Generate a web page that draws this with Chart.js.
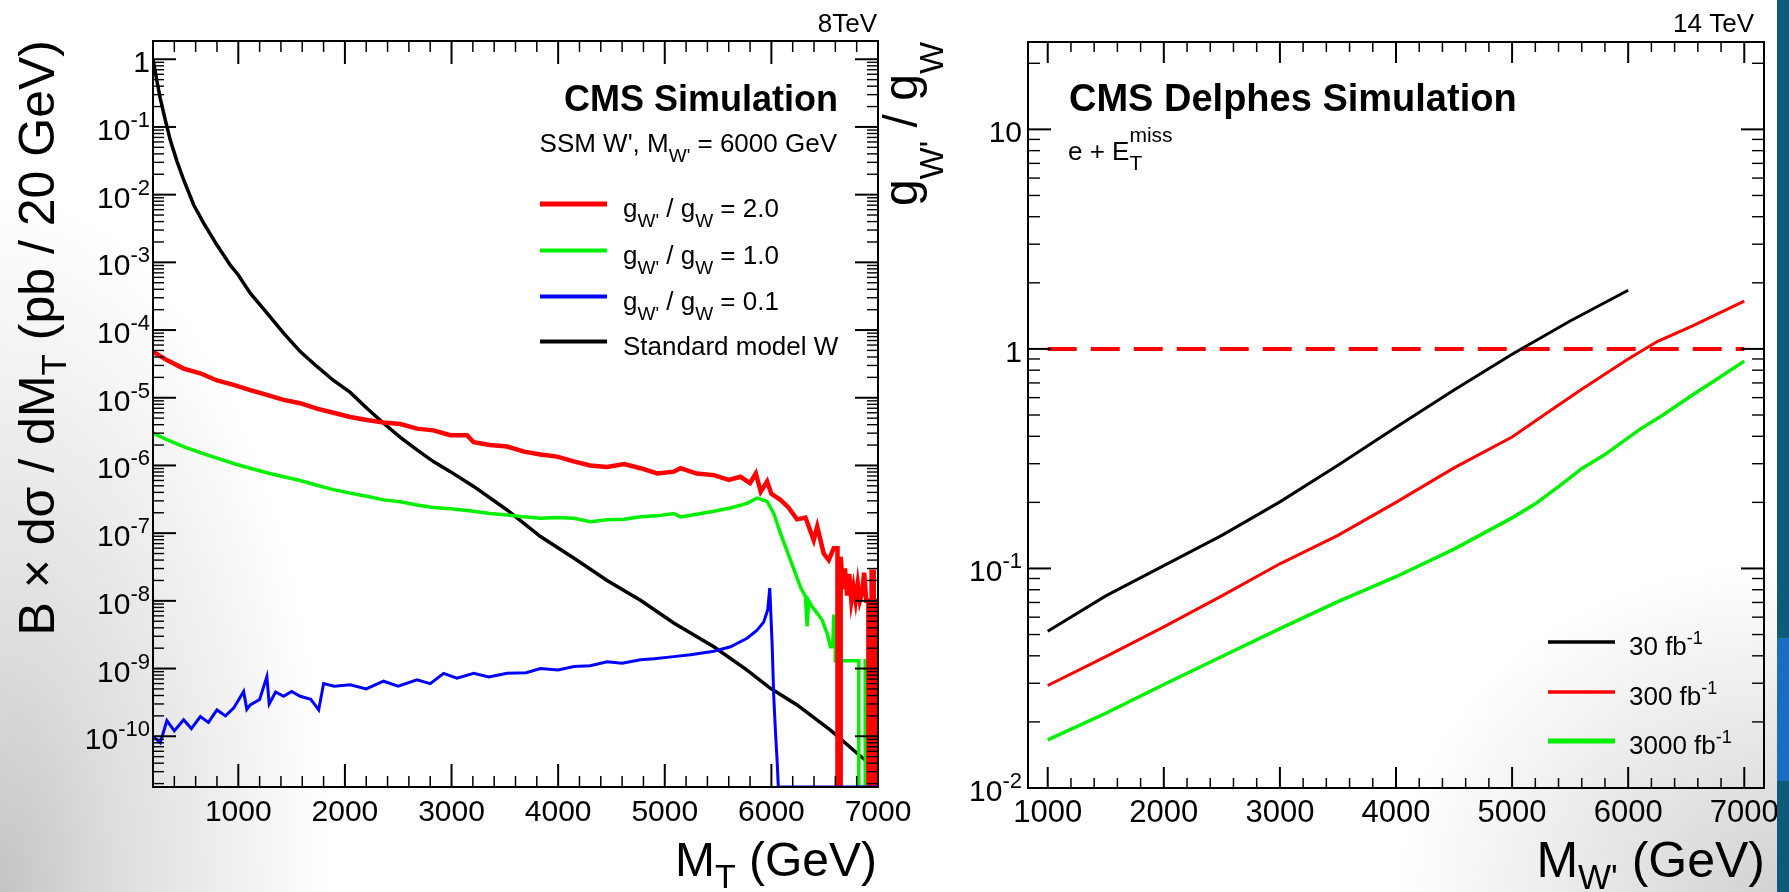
<!DOCTYPE html>
<html>
<head>
<meta charset="utf-8">
<script src="https://cdn.jsdelivr.net/npm/chart.js@4.4.1/dist/chart.umd.min.js"></script>
<style>
  html, body { margin: 0; padding: 0; }
  body {
    width: 1789px; height: 892px; overflow: hidden; position: relative;
    background:
      radial-gradient(ellipse 330px 700px at 0px 892px, #c4c4c4 0%, #dddddd 35%, rgba(255,255,255,0) 100%),
      radial-gradient(ellipse 380px 330px at 1777px 892px, #d2d2d2 0%, rgba(255,255,255,0) 100%),
      #ffffff;
  }
  canvas { position: absolute; left: 0; top: 0; }
  #strip { position: absolute; left: 1777px; top: 0; width: 12px; height: 892px; background: #0d5b78; }
  #strip2 { position: absolute; left: 1777px; top: 638px; width: 12px; height: 143px; background: #1a6dc0; }
</style>
</head>
<body>
<canvas id="left" width="1789" height="892"></canvas>
<canvas id="right" width="1789" height="892"></canvas>
<div id="strip"></div><div id="strip2"></div>
<script>
// ---- left panel: M_T spectra (pb / 20 GeV), zero bins sit on the lower frame ----
var Y_MIN_LEFT = 1.78e-11;
var F = Y_MIN_LEFT;

var smX = [200, 215, 240, 268, 315, 362, 425, 487, 581, 675, 800, 925, 1000, 1112, 1268, 1425, 1581, 1737, 1893, 2050,
  2206, 2363, 2520, 2676, 2830, 2989, 3208, 3521, 3834, 4146, 4459, 4772, 5084, 5460, 5772, 5991, 6241, 6554, 6804, 6940, 7000];
var smY = [1.0, 0.75, 0.45, 0.265, 0.127, 0.064, 0.031, 0.0166, 0.0071, 0.0038, 1.8e-3, 9.1e-4, 6.5e-4, 3.5e-4, 1.8e-4, 9.0e-5, 4.8e-5, 2.9e-5, 1.8e-5, 1.2e-5,
  7.0e-6, 4.2e-6, 2.6e-6, 1.7e-6, 1.14e-6, 8.1e-7, 4.9e-7, 2.2e-7, 8.9e-8, 4.3e-8, 2.0e-8, 1.02e-8, 4.7e-9, 2.1e-9, 9.5e-10, 5.1e-10, 2.9e-10, 1.23e-10, 5.6e-11, 3.7e-11, 3.0e-11];

var w20X = [200, 330, 487, 644, 800, 956, 1112, 1268, 1425, 1581, 1737, 1893, 2050, 2206, 2362, 2520, 2676, 2830, 2989, 3146,
  3208, 3360, 3521, 3680, 3834, 3990, 4146, 4300, 4459, 4620, 4772, 4930, 5084, 5147, 5300, 5460, 5600, 5710, 5800, 5854,
  5900, 5960, 6000, 6085, 6160, 6241, 6320, 6397, 6430, 6491, 6538, 6585, 6620, 6620, 6650, 6650, 6670, 6690, 6710, 6730,
  6750, 6770, 6790, 6810, 6830, 6850, 6870, 6890, 6910, 6910, 6940, 6940, 6960, 6960, 6980, 6980, 7000];
var w20Y = [4.8e-5, 3.6e-5, 2.7e-5, 2.3e-5, 1.8e-5, 1.55e-5, 1.3e-5, 1.1e-5, 9.3e-6, 8.3e-6, 6.9e-6, 6.0e-6, 5.2e-6, 4.7e-6, 4.3e-6, 4.1e-6, 3.5e-6, 3.3e-6, 2.8e-6, 2.8e-6,
  2.2e-6, 2.0e-6, 1.9e-6, 1.6e-6, 1.45e-6, 1.35e-6, 1.15e-6, 1.0e-6, 9.5e-7, 1.05e-6, 9.1e-7, 7.6e-7, 8.1e-7, 9.1e-7, 7.6e-7, 7.2e-7, 6.1e-7, 6.8e-7, 5.5e-7, 7.6e-7,
  4.1e-7, 5.8e-7, 3.8e-7, 3.1e-7, 2.4e-7, 1.6e-7, 1.7e-7, 7.9e-8, 1.25e-7, 5.0e-8, 4.0e-8, 6.0e-8, 6.0e-8, F, F, 4.5e-8, 1.5e-8, 3.0e-8, 1.2e-8, 2.5e-8,
  1.0e-8, 1.6e-8, 1.0e-8, 1.8e-8, 1.0e-8, 1.3e-8, 2.6e-8, 1.0e-8, 1.0e-8, F, F, 2.7e-8, 2.7e-8, F, F, 1.0e-8, 1.0e-8];

var w10X = [200, 330, 487, 644, 800, 956, 1112, 1268, 1425, 1581, 1737, 1893, 2050, 2206, 2362, 2520, 2676, 2830, 2989, 3208,
  3360, 3521, 3680, 3834, 3990, 4146, 4302, 4459, 4620, 4772, 4930, 5084, 5147, 5300, 5460, 5616, 5772, 5866, 5960, 6022,
  6085, 6179, 6273, 6320, 6335, 6350, 6382, 6429, 6476, 6523, 6554, 6575, 6585, 6600, 6600, 6820, 6820, 6880, 6880, 7000];
var w10Y = [3.0e-6, 2.4e-6, 1.9e-6, 1.55e-6, 1.28e-6, 1.07e-6, 9.1e-7, 7.8e-7, 6.8e-7, 6.0e-7, 5.1e-7, 4.4e-7, 3.9e-7, 3.5e-7, 3.1e-7, 2.9e-7, 2.6e-7, 2.4e-7, 2.3e-7, 2.1e-7,
  1.95e-7, 1.86e-7, 1.74e-7, 1.66e-7, 1.7e-7, 1.66e-7, 1.48e-7, 1.58e-7, 1.6e-7, 1.74e-7, 1.8e-7, 1.95e-7, 1.74e-7, 1.9e-7, 2.1e-7, 2.35e-7, 2.75e-7, 3.3e-7, 2.95e-7, 1.95e-7,
  1.0e-7, 4.0e-8, 1.6e-8, 1.15e-8, 4.2e-9, 1.0e-8, 8.2e-9, 6.6e-9, 5.2e-9, 3.3e-9, 2.1e-9, 2.1e-9, 5.9e-9, 5.9e-9, 1.3e-9, 1.3e-9, F, F, 1.3e-9, 1.3e-9];

var w01X = [200, 268, 330, 400, 487, 560, 644, 720, 800, 880, 956, 1050, 1080, 1112, 1200, 1268, 1290, 1350, 1425, 1500,
  1581, 1680, 1754, 1800, 1900, 2050, 2200, 2362, 2500, 2676, 2800, 2926, 3050, 3208, 3350, 3521, 3700, 3834, 4000, 4146,
  4300, 4459, 4600, 4772, 4900, 5084, 5241, 5460, 5616, 5772, 5866, 5929, 5966, 5985, 6007, 6022, 6038, 6055, 6065, 7000];
var w01Y = [1.0e-10, 8.0e-11, 1.7e-10, 1.2e-10, 1.75e-10, 1.3e-10, 1.95e-10, 1.6e-10, 2.45e-10, 2.0e-10, 2.6e-10, 4.6e-10, 2.5e-10, 2.9e-10, 3.5e-10, 7.6e-10, 3.0e-10, 4.5e-10, 3.9e-10, 4.6e-10,
  3.9e-10, 3.5e-10, 2.45e-10, 6.0e-10, 5.5e-10, 5.75e-10, 5.0e-10, 6.5e-10, 5.5e-10, 6.8e-10, 6.0e-10, 8.5e-10, 7.2e-10, 8.5e-10, 7.5e-10, 8.5e-10, 8.7e-10, 1.0e-9, 9.5e-10, 1.07e-9,
  1.1e-9, 1.26e-9, 1.2e-9, 1.35e-9, 1.4e-9, 1.5e-9, 1.6e-9, 1.8e-9, 2.1e-9, 2.8e-9, 3.7e-9, 4.9e-9, 7.4e-9, 1.55e-8, 2.3e-9, 3.9e-10, 1.2e-10, 4.0e-11, F, F];

var leftXTicks = [1000, 2000, 3000, 4000, 5000, 6000, 7000];
var leftYExps = [0, -1, -2, -3, -4, -5, -6, -7, -8, -9, -10];

// ---- right panel: coupling limits vs M_W' ----
var mw30 = [1000, 1500, 2000, 2500, 3000, 3500, 4000, 4500, 5000, 5500, 6000];
var lim30 = [0.0518, 0.075, 0.103, 0.1415, 0.201, 0.295, 0.44, 0.65, 0.945, 1.34, 1.85];
var mw300 = [1000, 1500, 2000, 2500, 3000, 3500, 4000, 4500, 5000, 5300, 5600, 6000, 6250, 6550, 7000];
var lim300 = [0.0293, 0.0397, 0.0542, 0.075, 0.105, 0.1415, 0.20, 0.287, 0.397, 0.51, 0.655, 0.90, 1.08, 1.27, 1.65];
var mw3000 = [1000, 1500, 2000, 2500, 3000, 3500, 4000, 4500, 5000, 5200, 5400, 5600, 5800, 6100, 6300, 6550, 6750, 7000];
var lim3000 = [0.01655, 0.0219, 0.0296, 0.0397, 0.0532, 0.0706, 0.0917, 0.1225, 0.17, 0.197, 0.236, 0.285, 0.33, 0.43, 0.50, 0.615, 0.72, 0.88];
var refX = [1000, 7000];
var refY = [1, 1];

var rightXTicks = [1000, 2000, 3000, 4000, 5000, 6000, 7000];
var rightYExps = [-2, -1, 0, 1];

var FONT = '"Liberation Sans", Arial, Helvetica, sans-serif';

function pts(xs, ys) {
    return xs.map(function (x, i) { return { x: x, y: ys[i] }; });
}

function serie(xs, ys, cor, largura, extra) {
    var d = {
        data: pts(xs, ys),
        borderColor: cor,
        borderWidth: largura,
        pointRadius: 0,
        tension: 0,
        fill: false,
        borderJoinStyle: 'miter'
    };
    for (var k in extra) d[k] = extra[k];
    return d;
}

function fontOf(p) {
    return (p.b ? 'bold ' : '') + p.s + 'px ' + FONT;
}

function richWidth(ctx, parts) {
    var w = 0;
    parts.forEach(function (p) {
        ctx.font = fontOf(p);
        if (!p.noAdv) w += ctx.measureText(p.t).width;
    });
    return w;
}

// draws a run of text pieces (sub/superscripts via dy)
function drawRich(ctx, parts, x, y, align) {
    var cx = x;
    if (align === 'right') cx = x - richWidth(ctx, parts);
    ctx.textAlign = 'left';
    ctx.textBaseline = 'alphabetic';
    ctx.fillStyle = '#000';
    parts.forEach(function (p) {
        ctx.font = fontOf(p);
        ctx.fillText(p.t, cx, y + (p.dy || 0));
        if (!p.noAdv) cx += ctx.measureText(p.t).width;
    });
}

function seg(ctx, x1, y1, x2, y2) {
    ctx.beginPath();
    ctx.moveTo(x1, y1);
    ctx.lineTo(x2, y2);
    ctx.stroke();
}

function frameAndTicks(chart, t) {
    var ctx = chart.ctx, a = chart.chartArea, xs = chart.scales.x, ys = chart.scales.y;
    ctx.save();
    ctx.strokeStyle = '#000';
    for (var v = Math.ceil(xs.min / t.xMinor) * t.xMinor; v <= xs.max; v += t.xMinor) {
        var px = xs.getPixelForValue(v);
        var major = v % t.xMajor === 0;
        var L = major ? t.xMajorLen : t.xMinorLen;
        ctx.lineWidth = major ? 2 : 1.5;
        seg(ctx, px, a.bottom, px, a.bottom - L);
        seg(ctx, px, a.top, px, a.top + L);
    }
    var e0 = Math.floor(Math.log10(ys.min)), e1 = Math.ceil(Math.log10(ys.max));
    for (var e = e0; e <= e1; e++) {
        for (var m = 1; m < 10; m++) {
            var val = m * Math.pow(10, e);
            if (val < ys.min || val > ys.max) continue;
            var py = ys.getPixelForValue(val);
            var Ly = m === 1 ? t.yMajorLen : t.yMinorLen;
            ctx.lineWidth = m === 1 ? 2 : 1.4;
            seg(ctx, a.left, py, a.left + Ly, py);
            seg(ctx, a.right, py, a.right - Ly, py);
        }
    }
    ctx.lineWidth = 2;
    ctx.strokeRect(a.left, a.top, a.right - a.left, a.bottom - a.top);
    ctx.restore();
}

function tickLabels(chart, xTicks, yExps, o) {
    var ctx = chart.ctx, a = chart.chartArea, xs = chart.scales.x, ys = chart.scales.y;
    ctx.save();
    xTicks.forEach(function (v) {
        ctx.font = o.xSize + 'px ' + FONT;
        ctx.fillStyle = '#000';
        ctx.textAlign = 'center';
        ctx.fillText(String(v), xs.getPixelForValue(v), o.xBase);
    });
    yExps.forEach(function (e) {
        var py = ys.getPixelForValue(Math.pow(10, e)) + 13;
        var parts;
        if (e === 0) parts = [{ t: '1', s: o.ySize }];
        else if (e === 1) parts = [{ t: '10', s: o.ySize }];
        else parts = [{ t: '10', s: o.ySize }, { t: String(e), s: o.supSize, dy: -13 }];
        drawRich(ctx, parts, a.left - o.gap, py, 'right');
    });
    ctx.restore();
}

function legendRows(ctx, rows, x1, x2, tx) {
    rows.forEach(function (r) {
        ctx.save();
        ctx.strokeStyle = r.cor;
        ctx.lineWidth = r.w;
        seg(ctx, x1, r.y, x2, r.y);
        ctx.restore();
        drawRich(ctx, r.parts, tx, r.y + 13, 'left');
    });
}

function decor(draw) {
    return { id: 'decor', afterDraw: function (chart) { draw(chart); } };
}

var noAxis = {
    ticks: { display: false },
    grid: { display: false, drawTicks: false },
    border: { display: false }
};

function eixo(tipo, min, max) {
    return Object.assign({ type: tipo, min: min, max: max }, noAxis);
}

var baseOptions = function (padding, xMin, xMax, yMin, yMax) {
    return {
        responsive: false,
        animation: false,
        devicePixelRatio: 1,
        layout: { padding: padding },
        plugins: { legend: { display: false }, tooltip: { enabled: false } },
        scales: { x: eixo('linear', xMin, xMax), y: eixo('logarithmic', yMin, yMax) }
    };
};

function gLabel(v) {
    return [{ t: 'g', s: 26 }, { t: "W'", s: 19, dy: 10 }, { t: ' / g', s: 26 }, { t: 'W', s: 19, dy: 10 }, { t: ' = ' + v, s: 26 }];
}

new Chart(document.getElementById('left'), {
    type: 'line',
    data: {
        datasets: [
            serie(w01X, w01Y, '#0000ff', 3),
            serie(w20X, w20Y, '#ff0000', 4.5),
            serie(w10X, w10Y, '#00f000', 3.5),
            serie(smX, smY, '#000000', 3.5)
        ]
    },
    options: baseOptions({ left: 153, top: 41, right: 911, bottom: 105 }, 200, 7000, Y_MIN_LEFT, 1.86),
    plugins: [decor(function (chart) {
        var ctx = chart.ctx;
        frameAndTicks(chart, { xMinor: 200, xMajor: 1000, xMajorLen: 23, xMinorLen: 11, yMajorLen: 23, yMinorLen: 11 });
        tickLabels(chart, leftXTicks, leftYExps, { xSize: 30, xBase: 821, ySize: 30, supSize: 22, gap: 3 });

        drawRich(ctx, [{ t: '8TeV', s: 26 }], 877, 32, 'right');
        drawRich(ctx, [{ t: 'CMS Simulation', s: 36, b: true }], 838, 111, 'right');
        drawRich(ctx, [{ t: "SSM W', M", s: 26 }, { t: "W'", s: 19, dy: 10 }, { t: ' = 6000 GeV', s: 26 }], 837, 152, 'right');

        legendRows(ctx, [
            { y: 204, cor: '#ff0000', w: 5, parts: gLabel('2.0') },
            { y: 250.5, cor: '#00f000', w: 4, parts: gLabel('1.0') },
            { y: 296.5, cor: '#0000ff', w: 4, parts: gLabel('0.1') },
            { y: 341.5, cor: '#000000', w: 4, parts: [{ t: 'Standard model W', s: 26 }] }
        ], 540, 607, 623);

        drawRich(ctx, [{ t: 'M', s: 48 }, { t: 'T', s: 34, dy: 12 }, { t: ' (GeV)', s: 48 }], 877, 876, 'right');

        ctx.save();
        ctx.translate(54, 40);
        ctx.rotate(-Math.PI / 2);
        drawRich(ctx, [{ t: 'B \u00d7 d\u03c3 / dM', s: 50 }, { t: 'T', s: 35, dy: 12 }, { t: ' (pb / 20 GeV)', s: 50 }], 0, 0, 'right');
        ctx.restore();
    })]
});

new Chart(document.getElementById('right'), {
    type: 'line',
    data: {
        datasets: [
            serie(mw30, lim30, '#000000', 3),
            serie(mw300, lim300, '#ff0000', 3),
            serie(mw3000, lim3000, '#00f000', 3.5),
            serie(refX, refY, '#ff0000', 4, { borderDash: [29, 14] })
        ]
    },
    options: baseOptions({ left: 1028, top: 42, right: 25, bottom: 104 }, 830, 7170, 0.01, 25),
    plugins: [decor(function (chart) {
        var ctx = chart.ctx;
        frameAndTicks(chart, { xMinor: 200, xMajor: 1000, xMajorLen: 21, xMinorLen: 10, yMajorLen: 23, yMinorLen: 12 });
        tickLabels(chart, rightXTicks, rightYExps, { xSize: 31, xBase: 822, ySize: 30, supSize: 22, gap: 6 });

        drawRich(ctx, [{ t: '14 TeV', s: 26 }], 1754, 32, 'right');
        drawRich(ctx, [{ t: 'CMS Delphes Simulation', s: 38, b: true }], 1069, 111, 'left');
        drawRich(ctx, [{ t: 'e + E', s: 26 }, { t: 'T', s: 21, dy: 10, noAdv: true }, { t: 'miss', s: 21, dy: -18 }], 1068, 160, 'left');

        legendRows(ctx, [
            { y: 642, cor: '#000000', w: 3.5, parts: [{ t: '30 fb', s: 26 }, { t: '-1', s: 18, dy: -11 }] },
            { y: 692, cor: '#ff0000', w: 3.5, parts: [{ t: '300 fb', s: 26 }, { t: '-1', s: 18, dy: -11 }] },
            { y: 741, cor: '#00f000', w: 5, parts: [{ t: '3000 fb', s: 26 }, { t: '-1', s: 18, dy: -11 }] }
        ], 1548, 1615, 1629);

        drawRich(ctx, [{ t: 'M', s: 50 }, { t: "W'", s: 35, dy: 12 }, { t: ' (GeV)', s: 50 }], 1765, 877, 'right');

        ctx.save();
        ctx.translate(917, 42);
        ctx.rotate(-Math.PI / 2);
        drawRich(ctx, [{ t: 'g', s: 48 }, { t: "W'", s: 34, dy: 26 }, { t: ' / g', s: 48 }, { t: 'W', s: 34, dy: 26 }], 0, 0, 'right');
        ctx.restore();
    })]
});
</script>
</body>
</html>
